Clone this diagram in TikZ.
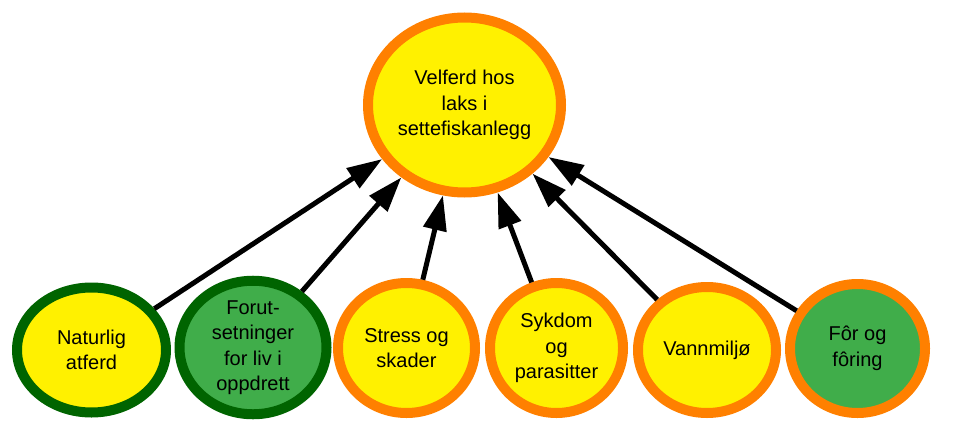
\documentclass[tikz,border=0pt]{standalone}
\usepackage{fontspec}
\setmainfont{Liberation Sans}
\usetikzlibrary{shapes.geometric,arrows.meta}
\definecolor{fillyellow}{RGB}{255,241,0}
\definecolor{rimorange}{RGB}{255,128,0}
\definecolor{rimgreen}{RGB}{0,100,0}
\definecolor{fillgreen}{RGB}{64,173,74}
\begin{document}
\begin{tikzpicture}[x=1pt,y=-1pt,
  bubble/.style={ellipse,inner sep=0pt,line width=10pt,align=center,
    font=\fontsize{20}{25.5}\selectfont},
  orangeyellow/.style={bubble,draw=rimorange,fill=fillyellow},
  greenyellow/.style={bubble,draw=rimgreen,fill=fillyellow},
  greengreen/.style={bubble,draw=rimgreen,fill=fillgreen},
  orangegreen/.style={bubble,draw=rimorange,fill=fillgreen},
  link/.style={line width=5pt,-{Triangle[length=35pt,width=23pt]}}]
\useasboundingbox (0,0) rectangle (955,436);
\node[orangeyellow,minimum width=193pt,minimum height=175pt] (top) at (464.5,105)
  {Velferd hos\\laks i\\settefiskanlegg};
\node[greenyellow,minimum width=149pt,minimum height=125pt] (n1) at (91.5,350)
  {Naturlig\\atferd};
\node[greengreen,minimum width=147pt,minimum height=131pt] (n2) at (253,347.5)
  {Forut-\\setninger\\for liv i\\oppdrett};
\node[orangeyellow,minimum width=137pt,minimum height=130pt] (n3) at (406.5,348)
  {Stress og\\skader};
\node[orangeyellow,minimum width=133pt,minimum height=130pt] (n4) at (556.5,348)
  {Sykdom\\og\\parasitter};
\node[orangeyellow,minimum width=138pt,minimum height=126pt] (n5) at (707,350)
  {Vannmiljø};
\node[orangegreen,minimum width=135pt,minimum height=129pt] (n6) at (857.5,348.5)
  {Fôr og\\fôring};
\foreach \n in {n1,n2,n3,n4,n5,n6}
  \draw[link] (\n) -- (top);
\end{tikzpicture}
\end{document}
